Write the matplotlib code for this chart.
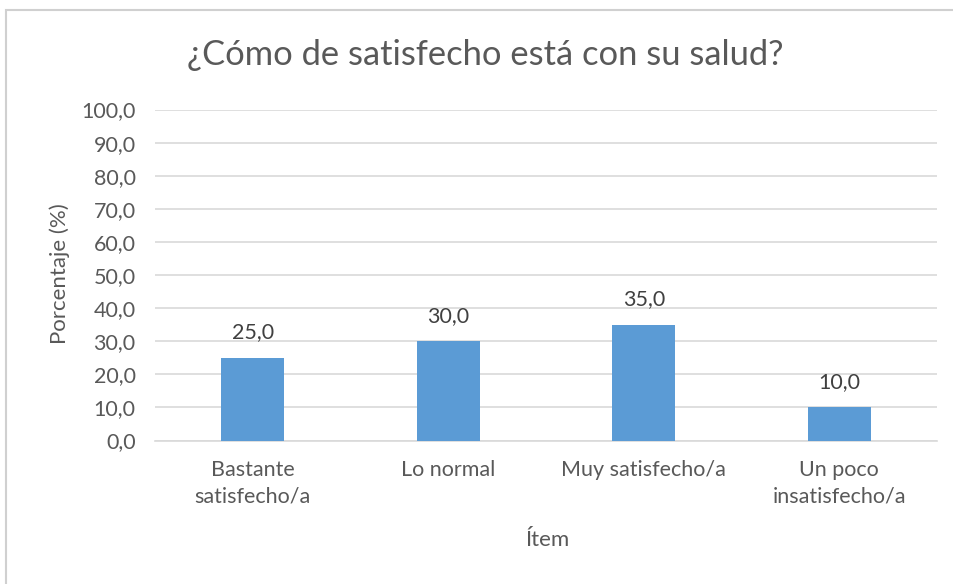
import matplotlib
matplotlib.use("Agg")
import matplotlib.pyplot as plt
from matplotlib.patches import Rectangle

categories = ["Bastante\nsatisfecho/a", "Lo normal", "Muy satisfecho/a", "Un poco\ninsatisfecho/a"]
values = [25.0, 30.0, 35.0, 10.0]
yticks = [0, 10, 20, 30, 40, 50, 60, 70, 80, 90, 100]
title = "¿Cómo de satisfecho está con su salud?"
ylabel = "Porcentaje (%)"
xlabel = "Ítem"

plt.rcParams['font.family'] = ['Lato', 'DejaVu Sans']
txt = "#595959"
bar_color = "#5B9BD5"
grid = "#D9D9D9"

fig = plt.figure(figsize=(9.54, 5.84), dpi=100)
fig.patches.append(Rectangle((6/954, -0.1), 1.2, 1 - 10/584 + 0.1, transform=fig.transFigure,
                             fill=False, edgecolor="#D0D0D0", linewidth=1.5))
ax = fig.add_axes([155/954, 1 - 440.5/584, (937 - 155)/954, (440.5 - 109.5)/584])

x = list(range(len(categories)))
bars = ax.bar(x, values, width=0.32, color=bar_color, zorder=3)
ax.set_xlim(-0.5, len(categories) - 0.5)
ax.set_ylim(0, 100)
ax.set_yticks(yticks)
ax.set_yticklabels([f"{v:.1f}".replace(".", ",") for v in yticks], color=txt, fontsize=15.5)
ax.set_xticks(x)
ax.set_xticklabels(categories, color=txt, fontsize=15.5, linespacing=1.4)
ax.tick_params(axis="both", length=0)
ax.tick_params(axis="y", pad=14)
ax.tick_params(axis="x", pad=14)
ax.yaxis.grid(True, color=grid, linewidth=1.2, zorder=0)
for s in ["top", "right", "left"]:
    ax.spines[s].set_visible(False)
ax.spines["bottom"].set_color(grid)
ax.spines["bottom"].set_linewidth(1.2)

for xi, v in zip(x, values):
    ax.annotate(f"{v:.1f}".replace(".", ","), (xi, v), xytext=(0, 11), textcoords="offset points",
                ha="center", va="bottom", color="#404040", fontsize=15.5)

fig.text(485 / 954, 1 - 55 / 584, title, ha="center", va="center", color=txt, fontsize=24.8)
fig.text(60 / 954, 1 - 274 / 584, ylabel, ha="center", va="center", rotation=90, color=txt, fontsize=16)
fig.text(548 / 954, 1 - 540 / 584, xlabel, ha="center", va="center", color=txt, fontsize=16)

fig.savefig("out.png", dpi=100)
